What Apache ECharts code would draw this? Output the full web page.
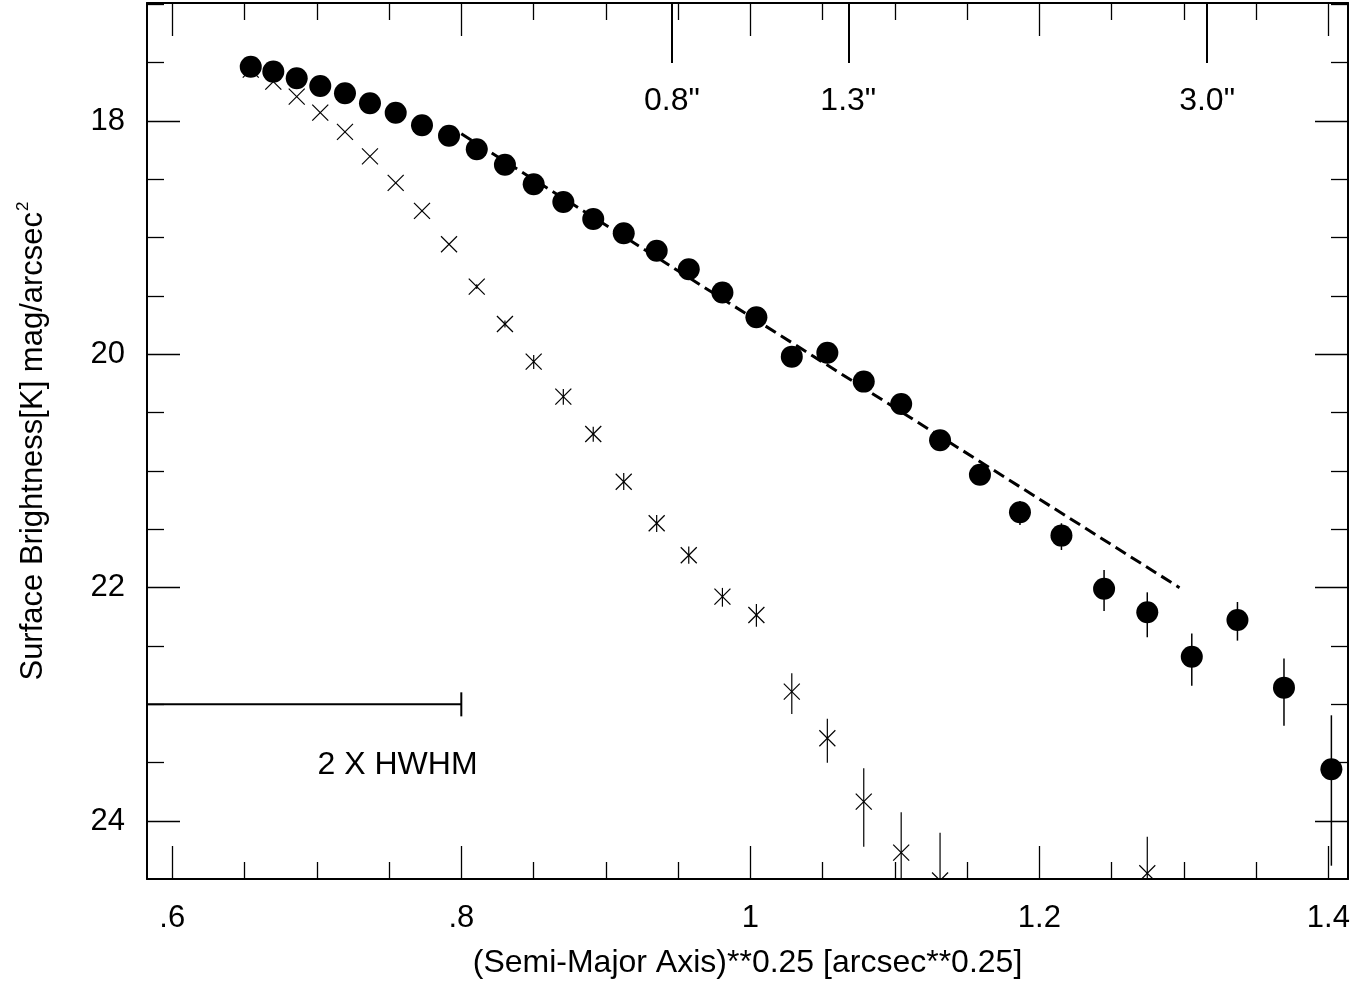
<!DOCTYPE html>
<html>
<head>
<meta charset="utf-8">
<script src="https://cdn.jsdelivr.net/npm/echarts@6/dist/echarts.min.js"></script>
<style>
  html, body { margin: 0; padding: 0; background: #fff; }
  #chart { width: 1355px; height: 987px; }
</style>
</head>
<body>
<div id="chart"></div>
<script>
// Isophote samples: (semi-major axis)^0.25 in arcsec^0.25
const axisQuarter = [
  0.6543, 0.6699, 0.6861, 0.7024, 0.7195, 0.7368, 0.7546, 0.7728, 0.7915, 0.8107,
  0.8302, 0.8501, 0.8706, 0.8913, 0.9124, 0.9352, 0.9574, 0.9807, 1.0042, 1.0287,
  1.0533, 1.0785, 1.1044, 1.1313, 1.1589, 1.1866, 1.2153, 1.2448, 1.2747, 1.3055,
  1.3371, 1.3693, 1.4021
];

// Galaxy K-band surface brightness (mag/arcsec^2) and its error bars
const galaxyMu = [
  17.535, 17.577, 17.634, 17.700, 17.763, 17.848, 17.929, 18.037, 18.126, 18.243,
  18.375, 18.543, 18.694, 18.840, 18.963, 19.112, 19.271, 19.470, 19.683, 20.020,
  19.986, 20.234, 20.426, 20.737, 21.032, 21.354, 21.554, 22.009, 22.211, 22.592,
  22.277, 22.857, 23.557
];
const galaxyErrBright = [
  0, 0, 0, 0, 0, 0, 0, 0, 0, 0,
  0, 0, 0, 0, 0, 0, 0, 0, 0, 0,
  0, 0, 0, 0.02, 0.05, 0.097, 0.106, 0.160, 0.171, 0.200,
  0.154, 0.249, 0.463
];
const galaxyErrFaint = [
  0, 0, 0, 0, 0, 0, 0, 0, 0, 0,
  0, 0, 0, 0, 0, 0, 0, 0, 0, 0,
  0, 0, 0, 0.02, 0.05, 0.109, 0.123, 0.191, 0.214, 0.249,
  0.177, 0.326, 0.826
];

// Point-spread-function star profile on the same radii (null = not measured)
const starMu = [
  17.560, 17.663, 17.792, 17.929, 18.094, 18.303, 18.531, 18.771, 19.057, 19.420,
  19.740, 20.063, 20.363, 20.683, 21.092, 21.448, 21.722, 22.077, 22.234, 22.891,
  23.291, 23.834, 24.271, 24.510, null, null, null, null, 24.448, null,
  null, null, null
];
const starErrBright = [
  0, 0, 0, 0, 0, 0, 0, 0, 0, 0.02,
  0.03, 0.057, 0.066, 0.063, 0.075, 0.071, 0.074, 0.075, 0.094, 0.158,
  0.168, 0.286, 0.346, 0.410, 0, 0, 0, 0, 0.314, 0,
  0, 0, 0
];
const starErrFaint = [
  0, 0, 0, 0, 0, 0, 0, 0, 0, 0.02,
  0.03, 0.063, 0.070, 0.066, 0.071, 0.075, 0.074, 0.086, 0.100, 0.191,
  0.209, 0.386, 0.500, 0.600, 0, 0, 0, 0, 0.450, 0,
  0, 0, 0
];

// r^(1/4) law fit over the resolved range
const fitStart = [0.800, 18.11];
const fitEnd = [1.297, 22.00];

// Resolution marker: 2 x HWHM of the seeing disc
const hwhmRange = [0.55, 0.80];
const hwhmLevel = 23.0;
const hwhmCapHalf = 0.103;
const hwhmText = '2 X HWHM';
const hwhmTextAt = [0.7559, 23.52];

// Axis ranges and ticks
const X_MIN = 0.5825, X_MAX = 1.4136;
const Y_MIN = 16.989, Y_MAX = 24.497;
const xMajorTicks = [0.6, 0.8, 1.0, 1.2, 1.4];
const xMinorTicks = [0.65, 0.7, 0.75, 0.85, 0.9, 0.95, 1.05, 1.1, 1.15, 1.25, 1.3, 1.35];
const yMajorTicks = [18, 20, 22, 24];
const yMinorTicks = [17, 17.5, 18.5, 19, 19.5, 20.5, 21, 21.5, 22.5, 23, 23.5, 24.5];
// Top scale: semi-major axis in arcsec, placed at a^0.25
const arcsecTicks = [0.8, 1.3, 3.0];
const arcsecTickPos = arcsecTicks.map(a => Math.pow(a, 0.25));

const FONT = '"Liberation Sans", Arial, Helvetica, sans-serif';
const INK = '#000';

function fmtX(v) {
  const s = String(Math.round(v * 10) / 10);
  return s.startsWith('0.') ? s.slice(1) : s;
}
function fmtArcsec(v) {
  const i = arcsecTickPos.findIndex(p => Math.abs(p - v) < 1e-6);
  return i < 0 ? '' : arcsecTicks[i].toFixed(1) + '"';
}

function hAxis(position, ticks, len, extra) {
  return Object.assign({
    type: 'value', position: position, min: X_MIN, max: X_MAX,
    axisLine: { show: false },
    axisTick: { show: true, inside: true, length: len, customValues: ticks,
                lineStyle: { color: INK, width: 1.3 } },
    axisLabel: { show: false },
    splitLine: { show: false }
  }, extra || {});
}
function vAxis(position, ticks, len, extra) {
  return Object.assign({
    type: 'value', position: position, min: Y_MIN, max: Y_MAX, inverse: true,
    axisLine: { show: false },
    axisTick: { show: true, inside: true, length: len, customValues: ticks,
                lineStyle: { color: INK, width: 1.3 } },
    axisLabel: { show: false },
    splitLine: { show: false }
  }, extra || {});
}

const galaxyPoints = axisQuarter.map((x, i) => [x, galaxyMu[i]]);
const galaxyBars = axisQuarter
  .map((x, i) => [x, galaxyMu[i], galaxyErrBright[i], galaxyErrFaint[i]])
  .filter(d => d[2] > 0 || d[3] > 0);
const starPoints = axisQuarter
  .map((x, i) => [x, starMu[i], starErrBright[i], starErrFaint[i]])
  .filter(d => d[1] !== null);

function renderErrorBar(params, api) {
  const x = api.value(0), y = api.value(1);
  const a = api.coord([x, y - api.value(2)]);
  const b = api.coord([x, y + api.value(3)]);
  return {
    type: 'line',
    shape: { x1: a[0], y1: a[1], x2: b[0], y2: b[1] },
    style: { stroke: INK, lineWidth: 1.5 }
  };
}

function renderStar(params, api) {
  const x = api.value(0), y = api.value(1);
  const c = api.coord([x, y]);
  const a = api.coord([x, y - api.value(2)]);
  const b = api.coord([x, y + api.value(3)]);
  const r = 8;
  const st = { stroke: INK, lineWidth: 1.2 };
  return {
    type: 'group',
    children: [
      { type: 'line', shape: { x1: c[0] - r, y1: c[1] - r, x2: c[0] + r, y2: c[1] + r }, style: st },
      { type: 'line', shape: { x1: c[0] - r, y1: c[1] + r, x2: c[0] + r, y2: c[1] - r }, style: st },
      { type: 'line', shape: { x1: a[0], y1: a[1], x2: b[0], y2: b[1] }, style: st }
    ]
  };
}

function renderHwhm(params, api) {
  const p0 = api.coord([api.value(0), api.value(2)]);
  const p1 = api.coord([api.value(1), api.value(2)]);
  const capTop = api.coord([api.value(1), api.value(2) - api.value(3)]);
  const capBot = api.coord([api.value(1), api.value(2) + api.value(3)]);
  const st = { stroke: INK, lineWidth: 2 };
  return {
    type: 'group',
    children: [
      { type: 'line', shape: { x1: p0[0], y1: p0[1], x2: p1[0], y2: p1[1] }, style: st },
      { type: 'line', shape: { x1: capTop[0], y1: capTop[1], x2: capBot[0], y2: capBot[1] }, style: st }
    ]
  };
}

function renderHwhmText(params, api) {
  const p = api.coord([api.value(0), api.value(1)]);
  return {
    type: 'text',
    x: p[0], y: p[1],
    style: { text: hwhmText, fill: INK, font: '32px ' + FONT, align: 'center', verticalAlign: 'middle' }
  };
}

const chart = echarts.init(document.getElementById('chart'), null, { renderer: 'canvas' });

chart.setOption({
  animation: false,
  backgroundColor: '#fff',
  grid: { left: 147, right: 7, top: 3, bottom: 108, containLabel: false },
  xAxis: [
    hAxis('bottom', xMajorTicks, 33, {
      axisLine: { show: true, onZero: false, lineStyle: { color: INK, width: 2 } },
      axisLabel: { show: true, customValues: xMajorTicks, formatter: fmtX, margin: 24,
                   color: INK, fontSize: 31, fontFamily: FONT },
      name: '(Semi-Major Axis)**0.25 [arcsec**0.25]',
      nameLocation: 'middle', nameGap: 68,
      nameTextStyle: { color: INK, fontSize: 32, fontFamily: FONT }
    }),
    hAxis('bottom', xMinorTicks, 17),
    hAxis('top', xMajorTicks, 33, {
      axisLine: { show: true, onZero: false, lineStyle: { color: INK, width: 2 } }
    }),
    hAxis('top', xMinorTicks, 17),
    hAxis('top', arcsecTickPos, 60, {
      axisTick: { show: true, inside: true, length: 60, customValues: arcsecTickPos,
                  lineStyle: { color: INK, width: 2 } },
      axisLabel: { show: true, inside: true, customValues: arcsecTickPos, formatter: fmtArcsec,
                   margin: 82, color: INK, fontSize: 32, fontFamily: FONT }
    })
  ],
  yAxis: [
    vAxis('left', yMajorTicks, 33, {
      axisLine: { show: true, onZero: false, lineStyle: { color: INK, width: 2 } },
      axisLabel: { show: true, customValues: yMajorTicks, margin: 22,
                   color: INK, fontSize: 31, fontFamily: FONT },
      name: '{b|Surface Brightness[K] mag/arcsec}{s|2}',
      nameLocation: 'middle', nameGap: 96,
      nameTextStyle: {
        color: INK, fontFamily: FONT,
        rich: {
          b: { fontSize: 31, fontFamily: FONT, color: INK, lineHeight: 36 },
          s: { fontSize: 17, fontFamily: FONT, color: INK, verticalAlign: 'top', lineHeight: 36, padding: [0, 0, 14, 1] }
        }
      }
    }),
    vAxis('left', yMinorTicks, 17),
    vAxis('right', yMajorTicks, 33, {
      axisLine: { show: true, onZero: false, lineStyle: { color: INK, width: 2 } }
    }),
    vAxis('right', yMinorTicks, 17)
  ],
  series: [
    {
      name: 'fit', type: 'line', data: [fitStart, fitEnd],
      symbol: 'none', silent: true, z: 2,
      lineStyle: { color: INK, width: 3, type: [12, 6] }
    },
    {
      name: 'galaxy error', type: 'custom', data: galaxyBars, renderItem: renderErrorBar,
      clip: true, silent: true, z: 3
    },
    {
      name: 'star', type: 'custom', data: starPoints, renderItem: renderStar,
      clip: true, silent: true, z: 3
    },
    {
      name: 'galaxy', type: 'scatter', data: galaxyPoints, symbol: 'circle', symbolSize: 22,
      itemStyle: { color: INK, opacity: 1 }, silent: true, z: 4
    },
    {
      name: 'hwhm', type: 'custom', data: [[hwhmRange[0], hwhmRange[1], hwhmLevel, hwhmCapHalf]],
      renderItem: renderHwhm, clip: true, silent: true, z: 3
    },
    {
      name: 'hwhm label', type: 'custom', data: [hwhmTextAt],
      renderItem: renderHwhmText, silent: true, z: 3
    }
  ]
});
</script>
</body>
</html>
